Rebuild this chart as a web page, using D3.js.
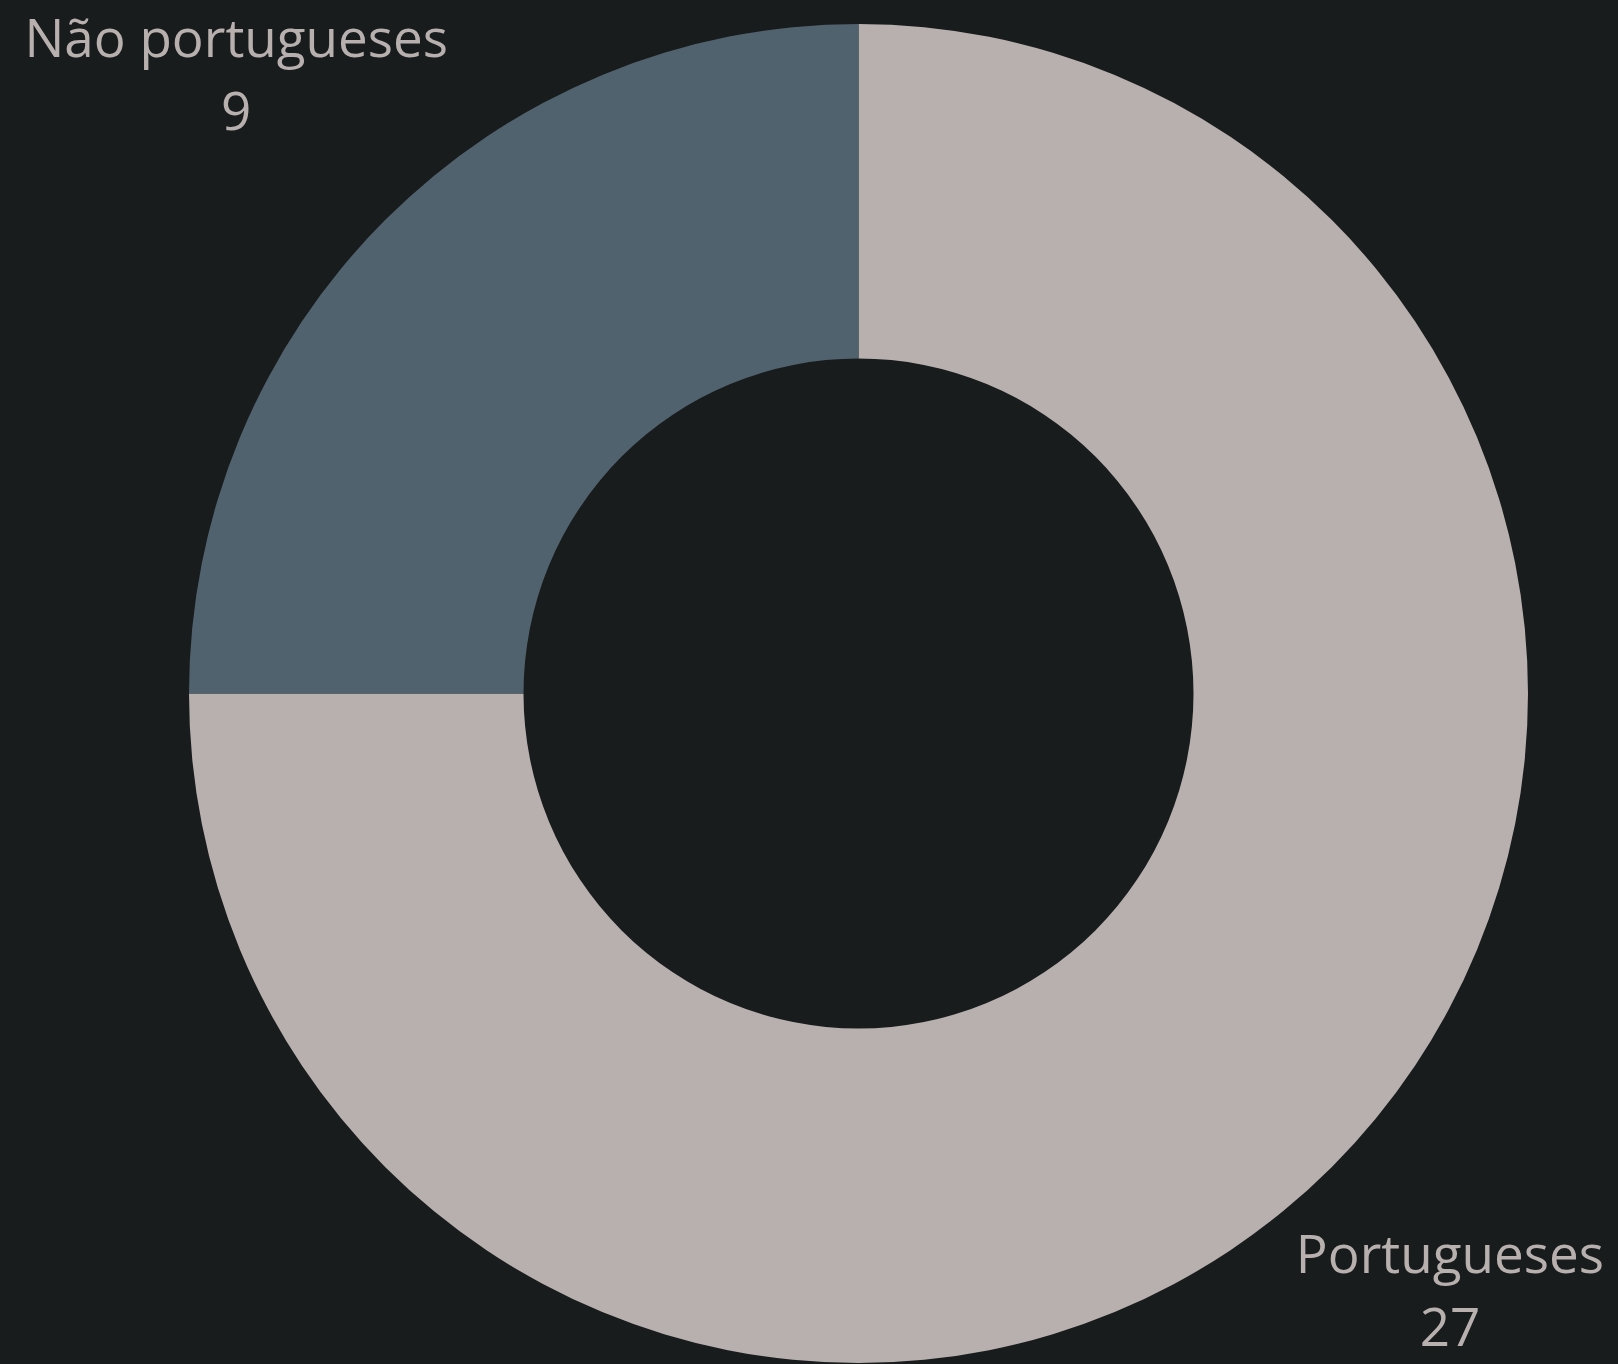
<!DOCTYPE html>
<html>
<head>
<meta charset="utf-8">
<script src="https://cdn.jsdelivr.net/npm/d3@7"></script>
<style>
  html, body { margin: 0; padding: 0; background: #191c1c; }
  svg { display: block; }
</style>
</head>
<body>
<div id="chart"></div>
<script>
// DATA
const categories = ["Portugueses", "Não portugueses"]
const values = [27, 9]
const colors = ["#b8b0af", "#51626f"]

const drawDonut = () => {
  const data = categories.map((c, i) => ({ name: c, value: values[i], color: colors[i] }))

  // DIMENSIONS
  const width = 1618
  const height = 1364
  const center = { x: 858.5, y: 693.5 }
  const outerRadius = 669.5
  const innerRadius = 335
  const labelRadius = 880
  const edgePad = 14
  const topPad = 57
  const bottomPad = 18

  const wrapper = d3.select("#chart")
    .append("svg")
    .attr("width", width)
    .attr("height", height)

  wrapper.append("rect")
    .attr("width", width)
    .attr("height", height)
    .attr("fill", "#191c1c")

  const bounds = wrapper.append("g")
    .attr("transform", `translate(${center.x},${center.y})`)

  const pie = d3.pie()
    .value(d => d.value)
    .sort(null)

  const arc = d3.arc()
    .innerRadius(innerRadius)
    .outerRadius(outerRadius)

  const labelArc = d3.arc()
    .innerRadius(labelRadius)
    .outerRadius(labelRadius)

  const arcs = pie(data)

  bounds.selectAll("path")
    .data(arcs)
    .join("path")
      .attr("d", arc)
      .attr("fill", d => d.data.color)

  // LABELS
  const nameOffset = -18
  const valueOffset = 55

  const labels = bounds.selectAll("g.label")
    .data(arcs)
    .join("g")
      .attr("class", "label")
      .style("font-family", "'Open Sans', sans-serif")
      .style("font-size", "53px")
      .attr("fill", "#b8b0af")
      .attr("text-anchor", "middle")

  labels.append("text")
    .attr("y", nameOffset)
    .text(d => d.data.name)
  labels.append("text")
    .attr("y", valueOffset)
    .text(d => d.data.value)

  // keep labels inside the picture
  labels.each(function(d) {
    let [x, y] = labelArc.centroid(d)
    const box = this.getBBox()
    const left = center.x + x + box.x
    const right = left + box.width
    if (right > width - edgePad) x -= right - (width - edgePad)
    if (left < edgePad) x += edgePad - left
    const firstBaseline = center.y + y + nameOffset
    if (firstBaseline < topPad) y += topPad - firstBaseline
    const lastBaseline = center.y + y + valueOffset
    if (lastBaseline > height - bottomPad) y -= lastBaseline - (height - bottomPad)
    d3.select(this).attr("transform", `translate(${x},${y})`)
  })
}

drawDonut()
</script>
</body>
</html>
